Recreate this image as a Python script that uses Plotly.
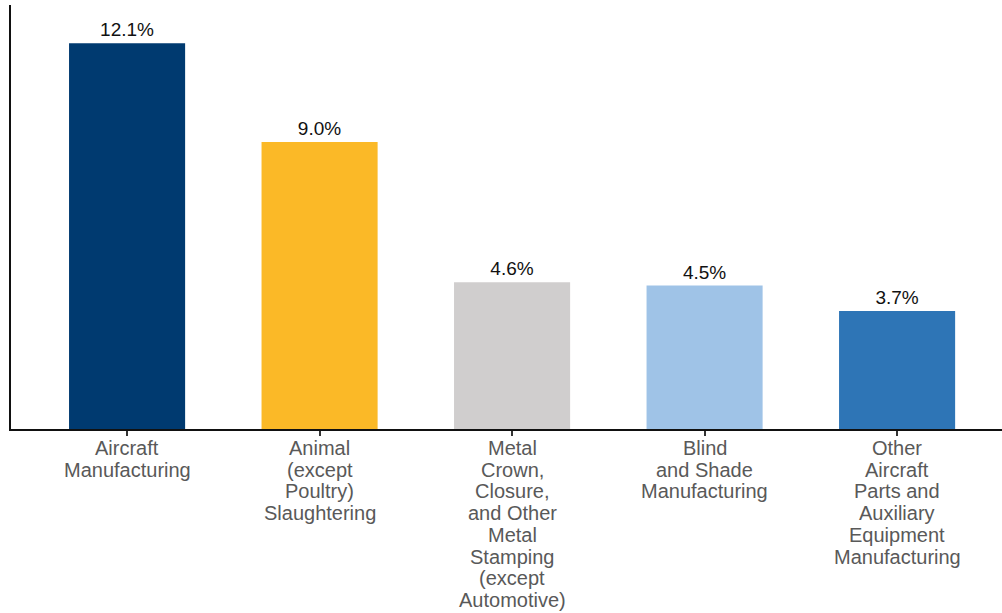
import plotly.graph_objects as go

categories = [
    "Aircraft<br>Manufacturing",
    "Animal<br>(except<br>Poultry)<br>Slaughtering",
    "Metal<br>Crown,<br>Closure,<br>and Other<br>Metal<br>Stamping<br>(except<br>Automotive)",
    "Blind<br>and Shade<br>Manufacturing",
    "Other<br>Aircraft<br>Parts and<br>Auxiliary<br>Equipment<br>Manufacturing",
]
values = [12.1, 9.0, 4.6, 4.5, 3.7]
bar_colors = ["#003a70", "#fbb927", "#d0cece", "#9fc3e7", "#2e75b6"]

FONT = "Liberation Sans, Arial, sans-serif"
LINE_GAP = 21.7  # tight line spacing for the category labels

positions = list(range(len(categories)))

fig = go.Figure(
    go.Bar(
        x=positions,
        y=values,
        marker=dict(color=bar_colors, line=dict(width=0)),
        width=0.603,
        text=[f"{v:.1f}%" for v in values],
        textposition="outside",
        textfont=dict(family=FONT, size=19, color="#111111"),
        cliponaxis=False,
    )
)

# category labels, one annotation per line so the line spacing stays compact
annotations = []
for pos, label in zip(positions, categories):
    for k, line in enumerate(label.split("<br>")):
        annotations.append(
            dict(
                x=pos,
                xref="x",
                y=0,
                yref="paper",
                text=line,
                showarrow=False,
                xanchor="center",
                yanchor="middle",
                yshift=-(19 + k * LINE_GAP),
                font=dict(family=FONT, size=20, color="#595959"),
            )
        )

fig.update_layout(
    width=1002,
    height=613,
    margin=dict(l=11, r=0, t=5, b=184),
    plot_bgcolor="white",
    paper_bgcolor="white",
    showlegend=False,
    font=dict(family=FONT),
    annotations=annotations,
    xaxis=dict(
        tickmode="array",
        tickvals=positions,
        ticktext=[""] * len(positions),
        range=[-0.603, 4.545],
        showline=True,
        linecolor="#111111",
        linewidth=2,
        ticks="outside",
        ticklen=5,
        tickwidth=2,
        tickcolor="#333333",
        showgrid=False,
        zeroline=False,
    ),
    yaxis=dict(
        range=[0, 13.3],
        showline=True,
        linecolor="#111111",
        linewidth=2,
        showticklabels=False,
        ticks="",
        showgrid=False,
        zeroline=False,
    ),
)

fig.write_html("out.html")
